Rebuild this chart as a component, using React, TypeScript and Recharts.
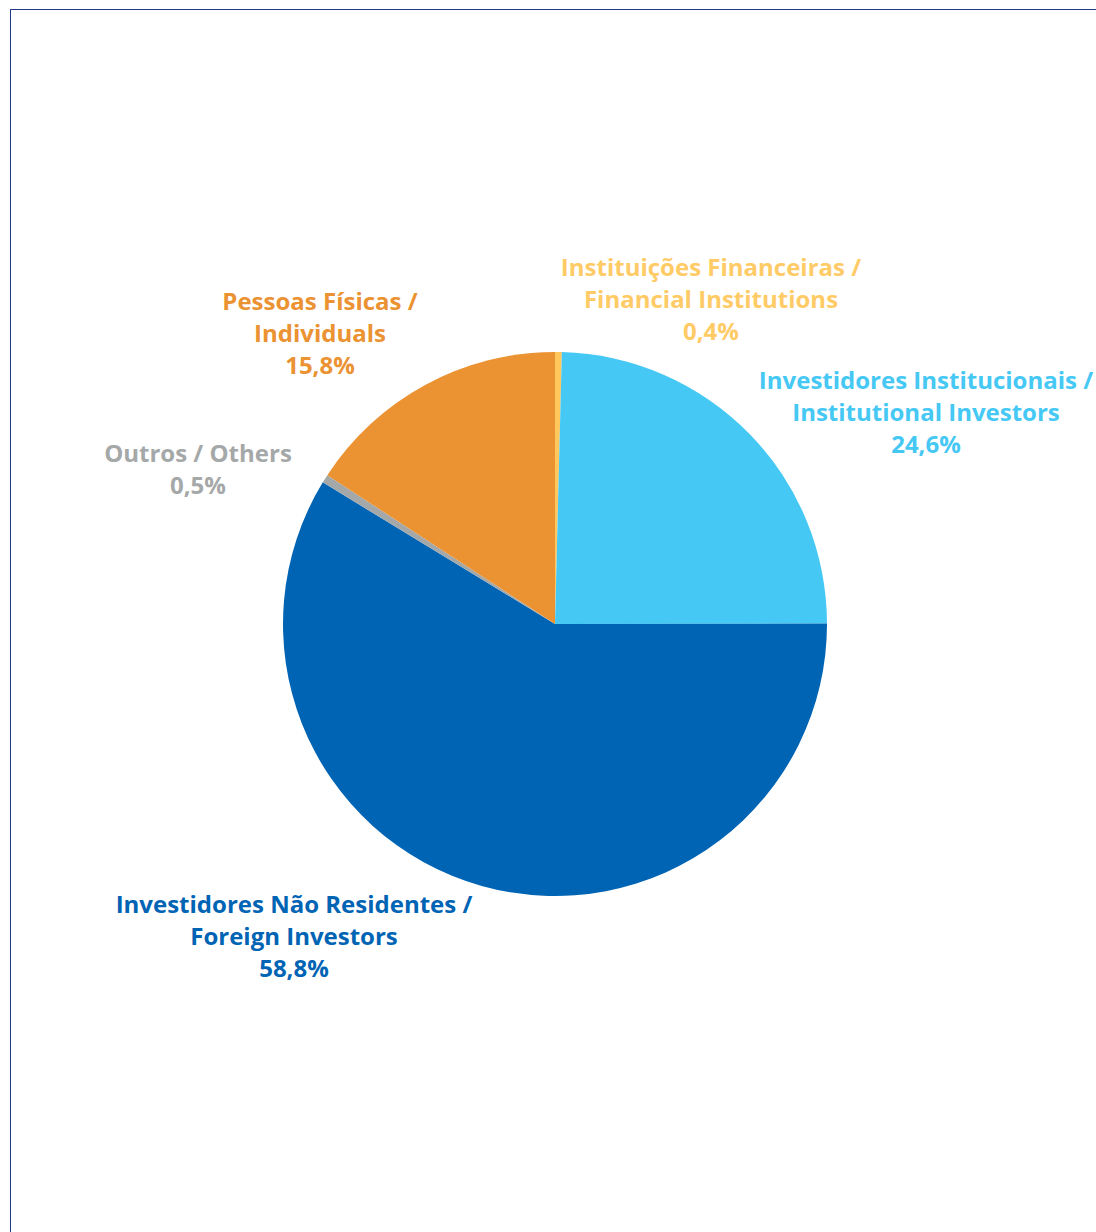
import React from "react";
import { PieChart, Pie, Cell } from "recharts";

// shareholder base, % of total
const categoriesPt = [
  "Instituições Financeiras",
  "Investidores Institucionais",
  "Investidores Não Residentes",
  "Outros",
  "Pessoas Físicas",
];
const categoriesEn = [
  "Financial Institutions",
  "Institutional Investors",
  "Foreign Investors",
  "Others",
  "Individuals",
];
const shares = [0.4, 24.6, 58.8, 0.5, 15.8];

const sliceColors = ["#FFC75C", "#46C8F4", "#0064B4", "#A5A8A8", "#EB9232"];
const labelColors = ["#FFCB66", "#46C8F4", "#0064B4", "#A5A8A8", "#EB9232"];

// label placement relative to the pie centre (first line baseline)
const labelLayout = [
  { dx: 156, dy: -348, oneLine: false },
  { dx: 371, dy: -235, oneLine: false },
  { dx: -261, dy: 289, oneLine: false },
  { dx: -357, dy: -162, oneLine: true },
  { dx: -235, dy: -314, oneLine: false },
];

const data = categoriesPt.map((pt, i) => ({
  name: pt,
  en: categoriesEn[i],
  value: shares[i],
}));

const fmt = (v: number) => v.toFixed(1).replace(".", ",") + "%";

const FONT = "'Open Sans', 'Noto Sans', sans-serif";
const LINE = 32;

function renderLabel(props: any) {
  const { cx, cy, index } = props;
  const d = data[index];
  const l = labelLayout[index];
  const lines = l.oneLine
    ? [`${d.name} / ${d.en}`, fmt(d.value)]
    : [`${d.name} /`, d.en, fmt(d.value)];
  return (
    <text
      key={`lbl-${index}`}
      x={cx + l.dx}
      y={cy + l.dy}
      textAnchor="middle"
      fill={labelColors[index]}
      fontFamily={FONT}
      fontWeight={700}
      fontSize={24}
    >
      {lines.map((t, j) => (
        <tspan key={j} x={cx + l.dx} dy={j === 0 ? 0 : LINE}>
          {t}
        </tspan>
      ))}
    </text>
  );
}

export default function App() {
  return (
    <div style={{ position: "absolute", left: 0, top: 0, width: 1096, height: 1232, background: "#fff" }}>
      <div
        style={{
          position: "absolute",
          left: 10,
          top: 9,
          width: 1100,
          height: 1240,
          borderTop: "1px solid #1F3A8A",
          borderLeft: "1px solid #1F3A8A",
        }}
      />
      <PieChart
        width={1096}
        height={1232}
        margin={{ top: 0, right: 0, bottom: 0, left: 0 }}
        style={{ position: "absolute", left: 0, top: 0 }}
      >
        <Pie
          data={data}
          dataKey="value"
          nameKey="name"
          cx={555}
          cy={624}
          outerRadius={272}
          startAngle={90}
          endAngle={-270}
          stroke="none"
          label={renderLabel}
          labelLine={false}
          isAnimationActive={false}
        >
          {data.map((d, i) => (
            <Cell key={d.name} fill={sliceColors[i]} />
          ))}
        </Pie>
      </PieChart>
    </div>
  );
}
